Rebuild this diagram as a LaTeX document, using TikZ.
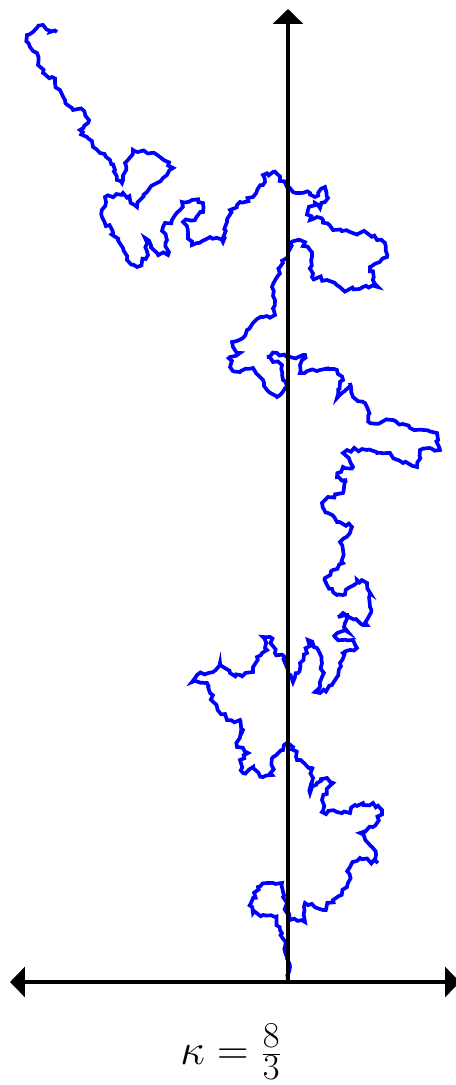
\documentclass[tikz,border=0pt]{standalone}
\usetikzlibrary{arrows.meta,decorations.pathmorphing}

\definecolor{sleBlue}{RGB}{0,0,255}

\tikzset{
  axisline/.style={line width=1.8pt,black,>={Triangle[length=0.3cm,width=0.6cm]}},
  slecurve/.style={sleBlue,line width=2.1pt,
    decorate,decoration={random steps,segment length=2.2pt,amplitude=1.3pt}}
}

\begin{document}
\begin{tikzpicture}[x=0.02cm,y=-0.02cm]
  \useasboundingbox (0,0) rectangle (456,1085);
  \pgfmathsetseed{4242}

  % Axes
  \coordinate (O) at (288,982);
  \coordinate (L) at (10,982);
  \coordinate (R) at (460,982);
  \coordinate (T) at (288,9);

  % Curve
  \draw[slecurve] plot coordinates {
    (288,980) (290,967) (287,957) (285,947) (280,930) (275,917) (263,915)
    (253,913) (251,903) (258,887) (267,883) (282,883) (283,897) (287,913)
    (290,920) (305,922) (305,903) (323,910) (333,900) (347,887) (350,867)
    (360,858) (378,863) (372,847) (360,833) (373,827) (382,810) (373,803)
    (355,805) (350,813) (337,812) (322,812) (322,800) (333,783) (327,778)
    (317,783) (310,793) (313,778) (312,768) (297,760) (293,747) (287,743)
    (283,750) (273,757) (272,775) (263,777) (253,767) (243,773) (240,760)
    (248,753) (237,747) (243,730) (240,720) (227,720) (217,707) (210,693)
    (207,683) (192,682) (197,675) (213,672) (220,663) (230,673) (240,675)
    (253,672) (257,657) (267,650) (263,637) (270,637) (275,653) (285,657)
    (288,670) (293,682) (298,673) (300,663) (307,653) (308,640) (317,648)
    (322,663) (322,677) (315,692) (320,693) (332,685) (337,677) (340,663)
    (343,653) (357,648) (353,640) (343,640) (333,637) (340,632) (348,632)
    (345,623) (347,615) (338,617) (343,613) (367,625) (370,607) (367,583)
    (357,580) (350,587) (343,595) (337,595) (327,585) (325,578) (333,570)
    (343,563) (343,550) (340,542) (350,533) (352,527) (337,522) (328,513)
    (322,503) (328,497) (343,493) (347,480) (337,477) (343,467) (353,467)
    (343,453) (347,450) (367,450) (377,453) (390,453) (403,463) (417,467)
    (420,450) (440,450) (437,433) (423,430) (410,428) (393,420) (380,423)
    (370,423) (367,407) (353,397) (350,383) (337,398) (343,380) (337,370)
    (320,370) (300,373) (302,360) (305,355) (290,357) (277,353) (267,357)
    (273,362) (282,365) (283,380) (287,387) (277,397) (267,390) (263,380)
    (253,368) (240,372) (230,367) (230,357) (240,353) (233,347) (232,342)
    (243,338) (247,330) (253,323) (263,317) (275,315) (275,300) (272,287)
    (277,277) (280,267) (287,258) (290,243) (300,240) (310,250) (312,277)
    (327,280) (343,290) (363,287) (378,287) (370,267) (387,257) (385,243)
    (377,240) (367,233) (350,232) (333,230) (323,220) (317,217) (310,220)
    (308,210) (315,203) (320,208) (328,198) (325,187) (315,197) (310,193)
    (293,192) (287,187) (280,180) (273,172) (263,175) (263,185) (253,197)
    (240,202) (230,210) (227,220) (223,242) (210,237) (192,245) (188,233)
    (183,222) (195,220) (203,212) (203,203) (192,200) (182,202) (180,210)
    (172,220) (163,227) (167,240) (168,255) (157,253) (145,238) (148,255)
    (137,267) (127,260) (123,248) (113,233) (102,217) (105,197) (123,193)
    (137,207) (140,200) (147,192) (157,183) (167,175) (173,168) (160,157)
    (147,153) (133,150) (125,163) (122,183) (117,180) (115,170) (110,160)
    (100,153) (93,147) (87,137) (80,130) (88,123) (83,110) (72,108)
    (65,100) (60,90) (55,83) (52,77) (43,73) (38,65) (37,53) (30,47)
    (27,35) (33,32) (43,25) (50,32) (57,32)
  };

  \draw[axisline,->] (O) -- (T);
  \draw[axisline,<->] (L) -- (R);

  % Label
  \node[font=\fontsize{31}{36}\selectfont] (kappa) at (231,1052)
    {$\kappa = \frac{8}{3}$};

\end{tikzpicture}
\end{document}
